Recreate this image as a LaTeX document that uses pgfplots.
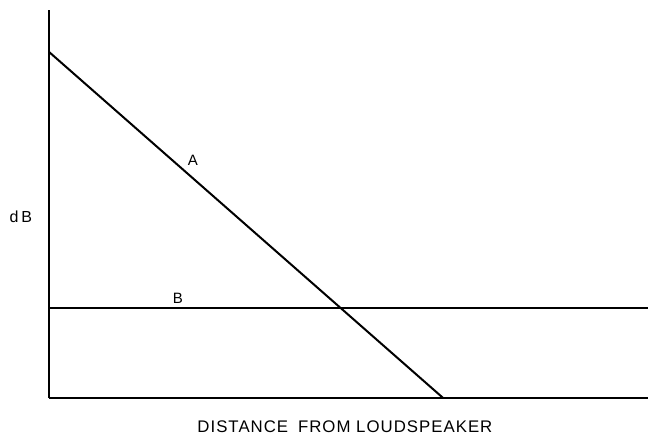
\documentclass[border=0pt]{standalone}
\usepackage{pgfplots}
\pgfplotsset{compat=1.18}
\usepackage{fontspec}
\setmainfont{Liberation Sans}
\begin{document}
\begin{tikzpicture}
\begin{axis}[
  scale only axis,
  width=299.5pt, height=194pt,
  xmin=0, xmax=100, ymin=0, ymax=100,
  axis lines=left,
  axis line style={-, line width=0.7pt},
  ticks=none,
  xlabel={\addfontfeatures{LetterSpace=6}DISTANCE\hspace{0.25em} FROM LOUDSPEAKER},
  xlabel style={font=\fontsize{8.4}{9}\selectfont, at={(axis description cs:0.494,-0.075)}, anchor=center},
  ylabel={d\,B},
  ylabel style={font=\fontsize{8}{9}\selectfont, rotate=-90, at={(axis description cs:-0.047,0.466)}, anchor=center},
  clip=false,
]
\addplot[black, line width=1pt] coordinates {(0,89.2) (65.8,0)};
\addplot[black, line width=1pt] coordinates {(0,23.2) (100,23.2)};
\node[font=\fontsize{7.5}{8}\selectfont] at (axis cs:24.0,61.3) {A};
\node[font=\fontsize{7.5}{8}\selectfont] at (axis cs:21.5,25.8) {B};
\end{axis}
\pgfresetboundingbox
\path[use as bounding box] ([shift={(-24.5pt,-18.5pt)}]current axis.origin) rectangle ([shift={(299.5pt,199pt)}]current axis.origin);
\end{tikzpicture}
\end{document}
